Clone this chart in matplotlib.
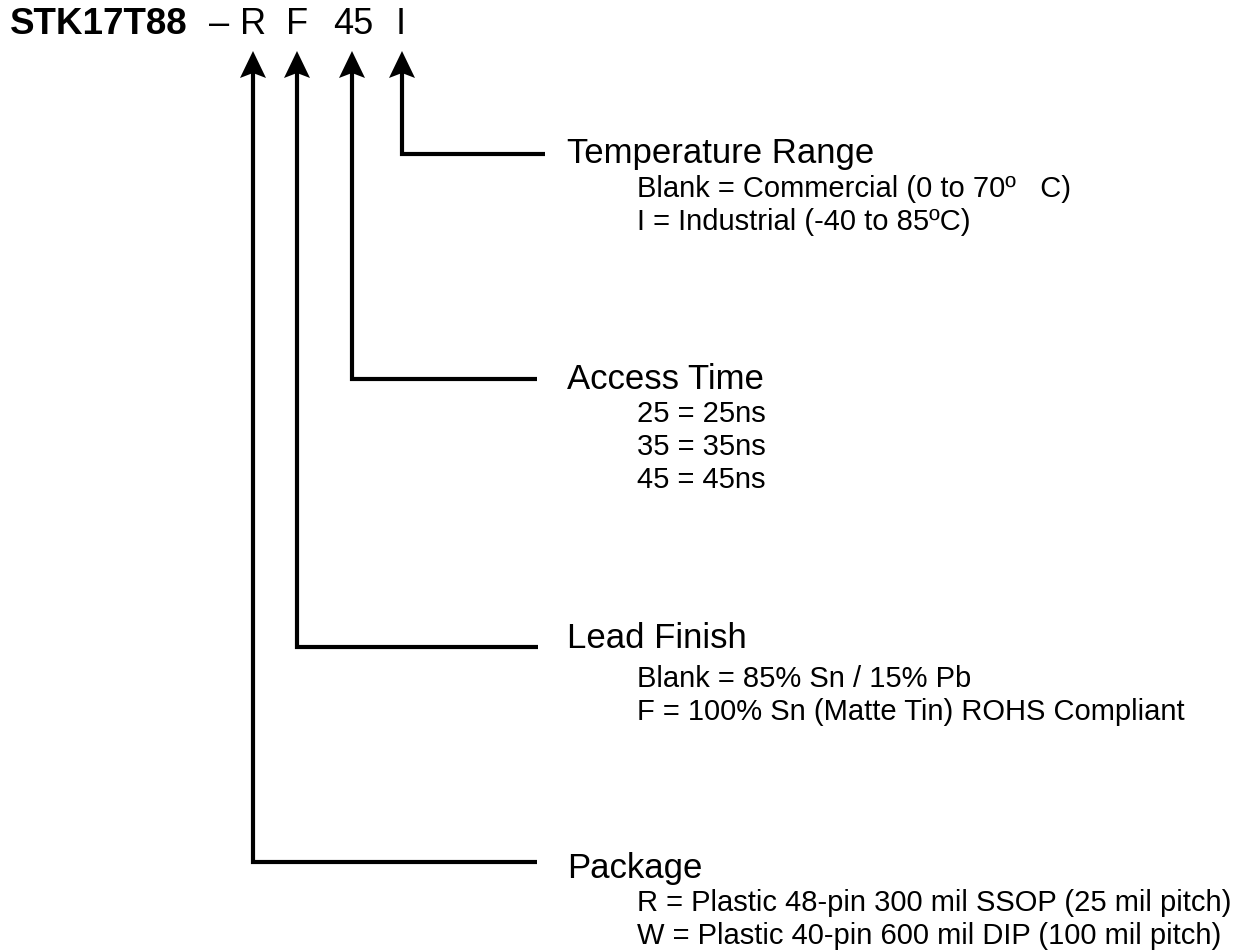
import matplotlib.pyplot as plt
from matplotlib.patches import Polygon

plt.rcParams['font.family'] = ['Liberation Sans', 'DejaVu Sans']

# part number pieces
part = 'STK17T88'
codes = ['R', 'F', '45', 'I']

# option groups, bottom arrow first (R) -> top (I)
headings = ['Package', 'Lead Finish', 'Access Time', 'Temperature Range']
options = [
    ['R = Plastic 48-pin 300 mil SSOP (25 mil pitch)',
     'W = Plastic 40-pin 600 mil DIP (100 mil pitch)'],
    ['Blank = 85% Sn / 15% Pb',
     'F = 100% Sn (Matte Tin) ROHS Compliant'],
    ['25 = 25ns', '35 = 35ns', '45 = 45ns'],
    ['Blank = Commercial (0 to 70\u00ba   C)',
     'I = Industrial (-40 to 85\u00baC)'],
]

# layout (pixels)
code_x = [253, 297, 352, 402]
code_tx = [253, 297, 353, 401]
line_y = [863, 648, 380, 155]
line_end = [537, 538, 537, 545]
head_y = [869, 639, 380, 153]
item_y0 = [903, 679, 414, 189]
item_dy = 33
tip_y = 52
hw, hl, notch = 13, 27, 5

fig = plt.figure(figsize=(12.53, 9.53), dpi=100)
ax = fig.add_axes([0, 0, 1, 1])
ax.set_xlim(0, 1253)
ax.set_ylim(953, 0)
ax.axis('off')

ax.text(10, 25, part, fontsize=26.5, fontweight='bold', va='center', ha='left')
ax.text(219, 25, '\u2013', fontsize=26, va='center', ha='center')
for x, c in zip(code_tx, codes):
    ax.text(x, 25, c, fontsize=26, va='center', ha='center')

for i in range(4):
    x = code_x[i]
    ax.plot([line_end[i], x, x], [line_y[i], line_y[i], tip_y + 15],
            color='black', lw=3, solid_capstyle='butt', solid_joinstyle='miter')
    head = Polygon([(x, tip_y), (x - hw, tip_y + hl), (x, tip_y + hl - notch),
                    (x + hw, tip_y + hl)], closed=True, color='black', lw=0)
    ax.add_patch(head)
    ax.text(567, head_y[i], headings[i], fontsize=25, va='center', ha='left')
    for j, s in enumerate(options[i]):
        ax.text(637, item_y0[i] + j * item_dy, s, fontsize=21,
                va='center', ha='left')

fig.savefig('out.png', dpi=100, facecolor='white')
